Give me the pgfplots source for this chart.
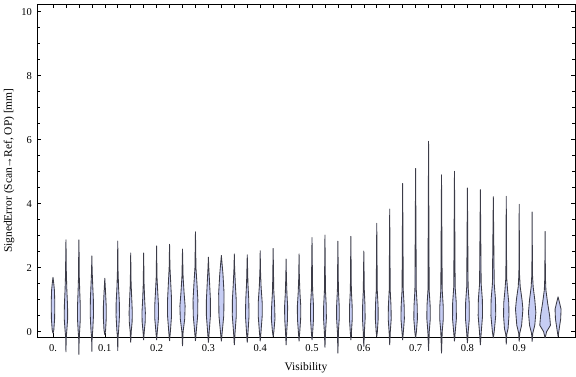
\documentclass[border=0pt]{standalone}
\usepackage{pgfplots}
\pgfplotsset{compat=1.18}
\usepackage{fontspec}
\setmainfont{Liberation Serif}
\definecolor{vfill}{RGB}{198,205,244}
\definecolor{vedge}{RGB}{60,60,72}
\def\pxu{0.0019305}
\newcommand\violin[2]{%
  \gdef\vR{}\gdef\vL{}%
  \foreach \yy/\ww in {#2}{%
    \pgfmathsetmacro\xr{#1+\ww*\pxu}%
    \pgfmathsetmacro\xl{#1-\ww*\pxu}%
    \xdef\vR{\vR (\xr,\yy)}%
    \xdef\vL{(\xl,\yy) \vL}%
  }%
  \edef\tmp{\noexpand\addplot[fill=vfill,draw=vedge,line width=0.85pt,line join=round] coordinates {\vR\space\vL};}%
  \tmp
}
\begin{document}
\begin{tikzpicture}
\path[use as bounding box] (-37pt,-40pt) rectangle (539pt,337pt);
\begin{axis}[
  at={(0,0)}, anchor=south west,
  scale only axis, width=538pt, height=332.7pt,
  xmin=-0.0309, xmax=1.0077, ymin=-0.166, ymax=10.23,
  clip=false,
  axis line style={black, line width=0.6pt},
  tick align=inside,
  xtick={0,0.025,0.05,0.075,0.1,0.125,0.15,0.175,0.2,0.225,0.25,0.275,0.3,0.325,0.35,0.375,0.4,0.425,0.45,0.475,0.5,0.525,0.55,0.575,0.6,0.625,0.65,0.675,0.7,0.725,0.75,0.775,0.8,0.825,0.85,0.875,0.9,0.925,0.95,0.975},
  xticklabels={0.,{},{},{},0.1,{},{},{},0.2,{},{},{},0.3,{},{},{},0.4,{},{},{},0.5,{},{},{},0.6,{},{},{},0.7,{},{},{},0.8,{},{},{},0.9,{},{},{}},
  ytick={0,2,4,6,8,10},
  minor y tick num=3,
  major tick length=4pt, minor tick length=2.6pt,
  tick style={black, line width=0.6pt},
  /pgf/number format/assume math mode=true,
  tick label style={font=\fontsize{10.5}{12}\selectfont},
  xticklabel style={anchor=north, inner sep=0pt, yshift=-7pt},
  yticklabel style={anchor=east, inner sep=0pt, xshift=-5pt},
  label style={font=\fontsize{11.5}{13}\selectfont},
  xlabel={Visibility},
  xlabel style={at={(axis description cs:0.5,-0.102)}, anchor=base},
  ylabel={SignedError (Scan\kern-0.06em→\kern-0.06em Ref, OP) [mm]},
  ylabel style={at={(axis description cs:-0.052,0.5)}, anchor=center},
]
\violin{0.000}{-0.05/0, 0.05/0.8, 0.4/1.6, 0.9/1.8, 1.3/1.4, 1.55/0.6, 1.70/0}
\violin{0.025}{-0.64/0, -0.2/0.25, 0.05/0.9, 0.4/1.7, 0.8/1.6, 1.3/0.9, 1.8/0.4, 2.3/0.25, 2.87/0}
\violin{0.050}{-0.72/0, -0.2/0.25, 0.05/0.8, 0.4/1.4, 0.8/1.4, 1.2/0.9, 1.7/0.4, 2.3/0.25, 2.87/0}
\violin{0.075}{-0.62/0, -0.2/0.25, 0.05/0.9, 0.5/1.6, 1.0/1.5, 1.5/0.8, 1.9/0.3, 2.37/0}
\violin{0.100}{-0.10/0, 0.05/0.8, 0.4/1.4, 0.8/1.4, 1.2/0.8, 1.67/0}
\violin{0.125}{-0.60/0, -0.2/0.25, 0.05/0.9, 0.5/1.7, 0.9/1.6, 1.4/0.8, 1.9/0.3, 2.83/0}
\violin{0.150}{-0.34/0, 0.0/0.5, 0.3/1.4, 0.6/1.6, 1.0/1.1, 1.5/0.4, 2.46/0}
\violin{0.175}{-0.26/0, 0.0/0.6, 0.3/1.5, 0.6/1.7, 1.0/1.0, 1.5/0.4, 2.46/0}
\violin{0.200}{-0.26/0, 0.0/0.7, 0.4/1.8, 0.8/1.9, 1.2/1.2, 1.7/0.4, 2.68/0}
\violin{0.225}{-0.29/0, 0.0/0.8, 0.5/2.0, 1.0/2.0, 1.5/1.2, 2.0/0.4, 2.73/0}
\violin{0.250}{-0.45/0, 0.0/0.6, 0.4/2.2, 0.8/2.6, 1.2/1.6, 1.7/0.6, 2.2/0.25, 2.58/0}
\violin{0.275}{-0.29/0, 0.0/0.8, 0.5/2.2, 1.0/2.4, 1.5/1.5, 2.0/0.5, 3.12/0}
\violin{0.300}{-0.34/0, 0.0/0.8, 0.5/2.0, 1.0/2.0, 1.5/1.2, 2.0/0.4, 2.33/0}
\violin{0.325}{-0.30/0, 0.0/0.9, 0.5/2.4, 1.2/2.7, 1.8/1.6, 2.2/0.5, 2.38/0}
\violin{0.350}{-0.42/0, 0.0/0.8, 0.5/2.0, 1.0/1.9, 1.5/1.0, 2.0/0.3, 2.43/0}
\violin{0.375}{-0.34/0, 0.0/0.8, 0.5/1.8, 1.0/1.5, 1.5/0.7, 2.40/0}
\violin{0.400}{-0.30/0, 0.0/0.8, 0.5/2.0, 0.9/2.0, 1.4/0.9, 1.9/0.3, 2.53/0}
\violin{0.425}{-0.15/0, 0.0/0.7, 0.4/1.8, 0.8/1.5, 1.3/0.6, 2.60/0}
\violin{0.450}{-0.42/0, 0.0/0.6, 0.4/1.4, 0.8/1.5, 1.2/0.8, 1.7/0.3, 2.27/0}
\violin{0.475}{-0.30/0, 0.0/0.7, 0.4/1.6, 0.8/1.7, 1.2/0.9, 1.7/0.3, 2.43/0}
\violin{0.500}{-0.26/0, 0.0/0.7, 0.4/1.5, 0.8/1.5, 1.3/0.6, 2.94/0}
\violin{0.525}{-0.50/0, 0.0/0.6, 0.4/1.4, 0.8/1.3, 1.3/0.5, 3.02/0}
\violin{0.550}{-0.68/0, 0.0/0.5, 0.4/1.3, 0.8/1.3, 1.3/0.5, 2.83/0}
\violin{0.575}{-0.26/0, 0.0/0.6, 0.4/1.4, 0.8/1.3, 1.3/0.5, 2.98/0}
\violin{0.600}{-0.47/0, 0.0/0.6, 0.4/1.3, 0.8/1.2, 1.3/0.5, 2.52/0}
\violin{0.625}{-0.15/0, 0.0/0.6, 0.4/1.4, 0.8/1.3, 1.3/0.5, 3.39/0}
\violin{0.650}{-0.42/0, 0.0/0.6, 0.4/1.5, 0.8/1.3, 1.3/0.5, 3.83/0}
\violin{0.675}{-0.26/0, 0.0/0.7, 0.4/1.7, 0.8/1.5, 1.3/0.6, 4.63/0}
\violin{0.700}{-0.20/0, 0.0/0.8, 0.4/1.8, 0.8/1.6, 1.3/0.7, 5.10/0}
\violin{0.725}{-0.60/0, 0.0/0.7, 0.4/1.7, 0.8/1.6, 1.3/0.6, 5.95/0}
\violin{0.750}{-0.68/0, 0.0/0.7, 0.4/1.8, 0.8/1.7, 1.3/0.7, 4.90/0}
\violin{0.775}{-0.30/0, 0.0/0.8, 0.4/1.9, 0.9/1.8, 1.4/0.7, 5.01/0}
\violin{0.800}{-0.36/0, 0.0/0.8, 0.4/1.9, 0.9/1.8, 1.4/0.7, 4.49/0}
\violin{0.825}{-0.42/0, 0.0/0.9, 0.5/2.2, 1.0/2.0, 1.5/0.8, 4.44/0}
\violin{0.850}{-0.20/0, 0.0/0.9, 0.5/2.4, 1.0/2.2, 1.5/0.9, 4.22/0}
\violin{0.875}{-0.40/0, -0.1/0.4, 0.1/1.8, 0.5/2.7, 0.9/2.5, 1.3/1.3, 1.7/0.4, 4.23/0}
\violin{0.900}{-0.31/0, -0.05/0.5, 0.2/2.4, 0.7/3.7, 1.0/2.8, 1.4/1.0, 1.8/0.3, 3.98/0}
\violin{0.925}{-0.31/0, -0.05/0.6, 0.2/2.6, 0.6/3.7, 1.0/2.6, 1.4/1.0, 1.8/0.3, 3.74/0}
\violin{0.950}{-0.20/0, 0.0/1.5, 0.2/5.3, 0.5/4.5, 0.9/2.5, 1.3/0.8, 1.7/0.3, 3.13/0}
\violin{0.975}{-0.15/0, 0.1/1.2, 0.4/2.6, 0.7/3.0, 0.9/1.5, 1.09/0}
\end{axis}
\end{tikzpicture}
\end{document}
